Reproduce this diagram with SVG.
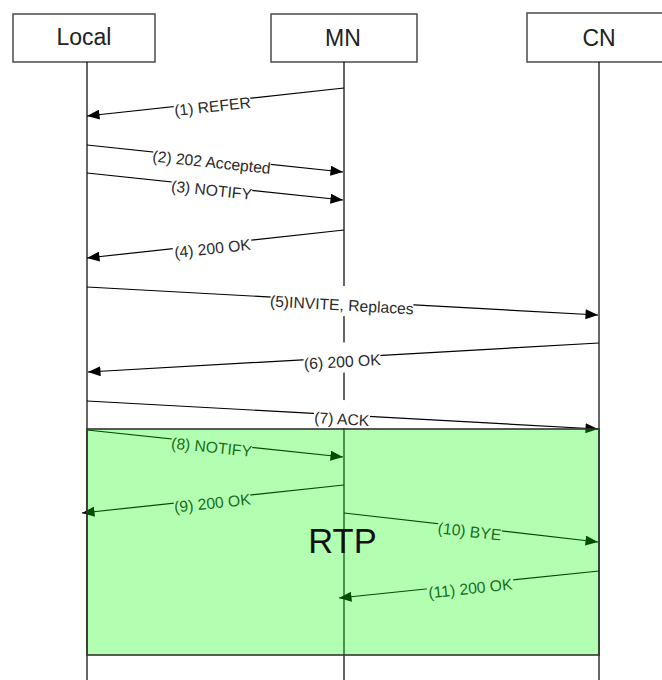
<svg xmlns="http://www.w3.org/2000/svg" width="662" height="680" viewBox="0 0 662 680">
  <defs>
    <marker id="arrow" viewBox="0 0 10 8" refX="10" refY="4" markerWidth="13" markerHeight="10" markerUnits="userSpaceOnUse" orient="auto">
      <path d="M0,0 L10,4 L0,8 Z" fill="#000"/>
    </marker>
  </defs>
  <style>
    .box { fill: #fff; stroke: #555; stroke-width: 1.6; }
    .title { font-family: "Liberation Sans", Arial, sans-serif; font-size: 23px; fill: #222; text-anchor: middle; }
    .life { stroke: #000; stroke-width: 1.2; fill: none; }
    .msg { stroke: #000; stroke-width: 1.2; fill: none; marker-end: url(#arrow); }
    .lbl { font-family: "Liberation Sans", Arial, sans-serif; font-size: 15.7px; fill: #2a2a2a; text-anchor: middle; }
    .lblbg { fill: #fff; }
  </style>

  <rect width="662" height="680" fill="#fff"/>

  <!-- participants -->
  <g id="local">
    <rect class="box" x="13" y="14" width="142" height="48"/>
    <text class="title" x="84" y="45">Local</text>
  </g>
  <g id="mn">
    <rect class="box" x="271" y="14" width="146" height="48"/>
    <text class="title" x="343" y="46">MN</text>
  </g>
  <g id="cn">
    <rect class="box" x="527" y="13" width="150" height="49"/>
    <text class="title" x="599" y="46">CN</text>
  </g>

  <!-- lifelines -->
  <g id="lifelines">
    <line class="life" x1="87" y1="62" x2="87" y2="680"/>
    <line class="life" x1="344" y1="62" x2="344" y2="680"/>
    <line class="life" x1="599" y1="62" x2="599" y2="680"/>
  </g>

  <!-- messages -->
  <g id="connectors">
    <line class="msg" x1="344" y1="88" x2="87" y2="116"/>
    <line class="msg" x1="87" y1="145" x2="343" y2="172"/>
    <line class="msg" x1="87" y1="173" x2="343" y2="200"/>
    <line class="msg" x1="344" y1="230" x2="87" y2="258"/>
    <line class="msg" x1="87" y1="287" x2="598" y2="315"/>
    <line class="msg" x1="599" y1="343" x2="88" y2="372"/>
    <line class="msg" x1="87" y1="401" x2="598" y2="429"/>
    <line class="msg" x1="87" y1="430" x2="343" y2="457"/>
    <line class="msg" x1="344" y1="485" x2="82" y2="513"/>
    <line class="msg" x1="344" y1="513" x2="598" y2="542"/>
    <line class="msg" x1="599" y1="571" x2="339" y2="598"/>
  </g>

  <!-- message labels: each sits on its message line, rotated to its slope -->
  <g id="labels">
    <g transform="translate(212,102.4) rotate(-6.22)">
      <rect class="lblbg" x="-38.5" y="-15" width="77" height="30"/>
      <text class="lbl" x="0" y="9.5">(1) REFER</text>
    </g>
    <g transform="translate(212,158.2) rotate(6.02)">
      <rect class="lblbg" x="-59" y="-15" width="118" height="30"/>
      <text class="lbl" x="0" y="9.5">(2) 202 Accepted</text>
    </g>
    <g transform="translate(212,186.2) rotate(6.02)">
      <rect class="lblbg" x="-40.5" y="-12" width="81" height="26"/>
      <text class="lbl" x="0" y="9.5">(3) NOTIFY</text>
    </g>
    <g transform="translate(212,244.4) rotate(-6.22)">
      <rect class="lblbg" x="-39.5" y="-15" width="79" height="30"/>
      <text class="lbl" x="0" y="9.5">(4) 200 OK</text>
    </g>
    <g transform="translate(342,301) rotate(3.14)">
      <rect class="lblbg" x="-71.5" y="-15" width="143" height="30"/>
      <text class="lbl" x="0" y="9.5">(5)INVITE, Replaces</text>
    </g>
    <g transform="translate(342,357.6) rotate(-3.25)">
      <rect class="lblbg" x="-38.5" y="-15" width="77" height="30"/>
      <text class="lbl" x="0" y="9.5">(6) 200 OK</text>
    </g>
    <g transform="translate(342,415) rotate(3.14)">
      <rect class="lblbg" x="-28" y="-15" width="56" height="28"/>
      <text class="lbl" x="0" y="9.5">(7) ACK</text>
    </g>
    <g transform="translate(212,443.2) rotate(6.02)">
      <rect class="lblbg" x="-40.5" y="-10" width="81" height="24"/>
      <text class="lbl" x="0" y="9.5">(8) NOTIFY</text>
    </g>
    <g transform="translate(212,499.1) rotate(-6.1)">
      <rect class="lblbg" x="-38.5" y="-15" width="77" height="30"/>
      <text class="lbl" x="0" y="9.5">(9) 200 OK</text>
    </g>
    <g transform="translate(470,527.4) rotate(6.51)">
      <rect class="lblbg" x="-32" y="-15" width="64" height="30"/>
      <text class="lbl" x="0" y="9.5">(10) BYE</text>
    </g>
    <g transform="translate(470,584.4) rotate(-5.93)">
      <rect class="lblbg" x="-43.5" y="-15" width="87" height="30"/>
      <text class="lbl" x="0" y="9.5">(11) 200 OK</text>
    </g>
  </g>

  <!-- translucent RTP media region laid over the later exchange -->
  <g id="rtp">
    <rect x="87" y="429" width="512" height="226" fill="#00ff00" fill-opacity="0.3" stroke="none"/>
    <rect x="87" y="429" width="512" height="226" fill="none" stroke="#333" stroke-width="1.6"/>
    <text x="342.5" y="552.5" font-family="Liberation Sans, Arial, sans-serif" font-size="34.5" fill="#111" text-anchor="middle">RTP</text>
  </g>
</svg>
